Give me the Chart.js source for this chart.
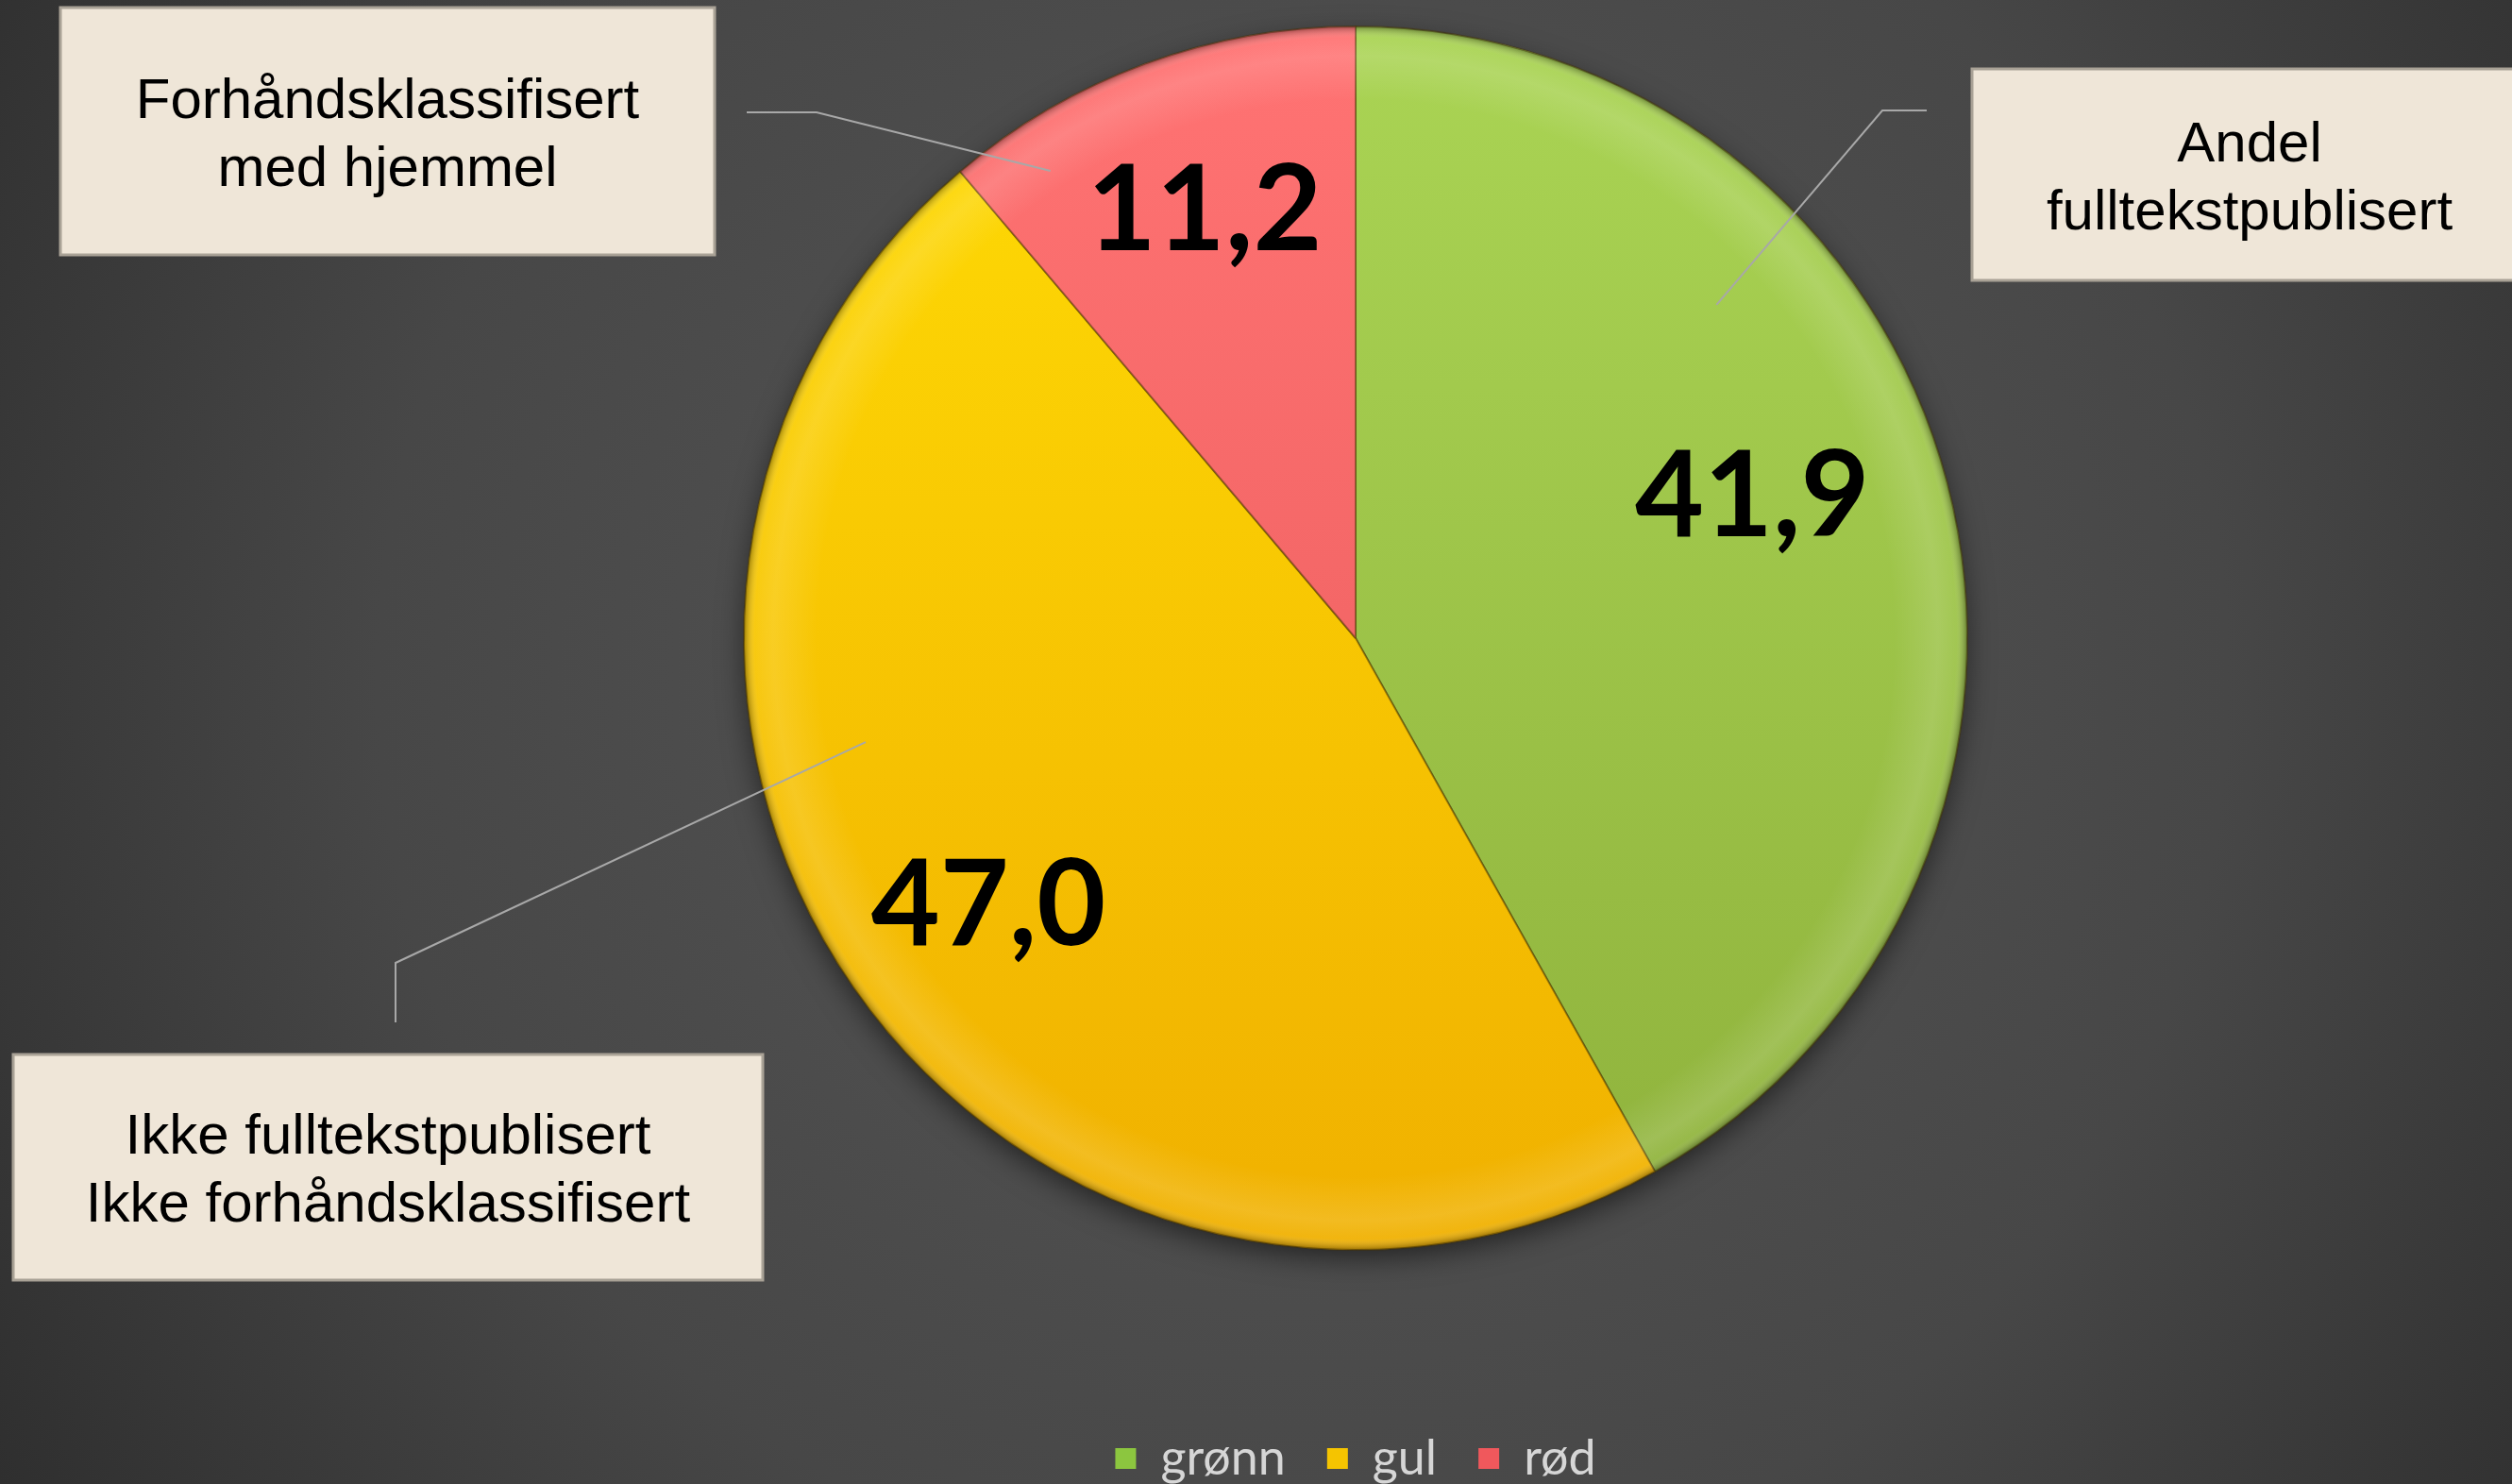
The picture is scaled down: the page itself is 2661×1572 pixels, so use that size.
<!DOCTYPE html>
<html lang="no">
<head>
<meta charset="UTF-8">
<title>Fulltekstpublisering</title>
<script src="https://cdn.jsdelivr.net/npm/chart.js@4.4.1/dist/chart.umd.min.js"></script>
<style>
    html, body { margin: 0; padding: 0; background: #3a3a3a; overflow: hidden; }
    #wrap { width: 2661px; height: 1572px; }
</style>
</head>
<body>
<div id="wrap"><canvas id="pie"></canvas></div>
<script>
// data
const categories = ['grønn', 'gul', 'rød'];
const shares = [41.9, 47.0, 11.2];
const valueLabels = ['41,9', '47,0', '11,2'];
const callouts = [
    ['Andel', 'fulltekstpublisert'],
    ['Ikke fulltekstpublisert', 'Ikke forhåndsklassifisert'],
    ['Forhåndsklassifisert', 'med hjemmel']
];

// colours (top -> bottom of the pie)
const topColors = ['#aad454', '#ffdc05', '#ff7373'];
const bottomColors = ['#8fb23c', '#f0b000', '#e85a5a'];
const legendColors = ['#8cc63f', '#f5c400', '#f0585c'];

// where each value label sits: angle shift from slice middle (deg), distance as part of radius
const labelShift = [-5.3, -1, 0.8];
const labelDist = [0.69, 0.74, 0.745];

// callout boxes: x, y, w, h, leader (box side -> elbow -> point on pie as fraction of radius)
const boxes = [
    { x: 2089, y: 73, w: 600, h: 224, text: 0, leader: [[2041, 117], [1994, 117]], tip: [0.590, -0.545] },
    { x: 14, y: 1117, w: 794, h: 239, text: 1, leader: [[419, 1083], [419, 1020]], tip: [-0.801, 0.170] },
    { x: 64, y: 8, w: 693, h: 262, text: 2, leader: [[791, 119], [865, 119]], tip: [-0.499, -0.764] }
];

const backdrop = {
    id: 'backdrop',
    beforeDraw(chart) {
        const ctx = chart.ctx;
        const g = ctx.createRadialGradient(1380, 720, 100, 1380, 720, 1700);
        g.addColorStop(0, '#555555');
        g.addColorStop(0.55, '#474747');
        g.addColorStop(1, '#2c2c2c');
        ctx.save();
        ctx.fillStyle = g;
        ctx.fillRect(0, 0, chart.width, chart.height);
        ctx.restore();
    },
    beforeDatasetsDraw(chart) {
        const arc = chart.getDatasetMeta(0).data[0];
        if (!arc) return;
        const ctx = chart.ctx;
        ctx.save();
        ctx.shadowColor = 'rgba(0,0,0,0.55)';
        ctx.shadowBlur = 30;
        ctx.shadowOffsetY = 10;
        ctx.fillStyle = '#333';
        ctx.beginPath();
        ctx.arc(arc.x, arc.y, arc.outerRadius - 2, 0, Math.PI * 2);
        ctx.fill();
        ctx.restore();
    },
    afterDatasetsDraw(chart) {
        const meta = chart.getDatasetMeta(0);
        const arc = meta.data[0];
        if (!arc) return;
        const ctx = chart.ctx;
        const r = arc.outerRadius;
        // bevel: light ring just inside the rim, dark edge at the rim
        ctx.save();
        ctx.beginPath();
        ctx.arc(arc.x, arc.y, r, 0, Math.PI * 2);
        ctx.clip();
        const g = ctx.createRadialGradient(arc.x, arc.y, r * 0.88, arc.x, arc.y, r);
        g.addColorStop(0, 'rgba(255,255,255,0)');
        g.addColorStop(0.6, 'rgba(255,255,255,0.13)');
        g.addColorStop(0.85, 'rgba(255,255,255,0.06)');
        g.addColorStop(1, 'rgba(0,0,0,0.35)');
        ctx.fillStyle = g;
        ctx.fillRect(arc.x - r, arc.y - r, 2 * r, 2 * r);
        ctx.restore();

        // value labels near slice middles
        ctx.save();
        ctx.font = 'bold 126px Lato';
        ctx.fillStyle = '#000';
        ctx.textAlign = 'center';
        ctx.textBaseline = 'middle';
        meta.data.forEach((a, i) => {
            const mid = (a.startAngle + a.endAngle) / 2 + labelShift[i] * Math.PI / 180;
            const d = r * labelDist[i];
            ctx.fillText(valueLabels[i], a.x + Math.cos(mid) * d, a.y + Math.sin(mid) * d + 4);
        });
        ctx.restore();
    },
    afterDraw(chart) {
        const arc = chart.getDatasetMeta(0).data[0];
        if (!arc) return;
        const ctx = chart.ctx;
        const r = arc.outerRadius;
        ctx.save();
        boxes.forEach(b => {
            // leader line
            ctx.strokeStyle = '#a8a8a8';
            ctx.lineWidth = 2;
            ctx.beginPath();
            ctx.moveTo(b.leader[0][0], b.leader[0][1]);
            ctx.lineTo(b.leader[1][0], b.leader[1][1]);
            ctx.lineTo(arc.x + b.tip[0] * r, arc.y + b.tip[1] * r);
            ctx.stroke();
            // box
            ctx.fillStyle = '#efe6d8';
            ctx.fillRect(b.x, b.y, b.w, b.h);
            ctx.strokeStyle = '#a9a296';
            ctx.lineWidth = 3;
            ctx.strokeRect(b.x, b.y, b.w, b.h);
            // text
            const lines = callouts[b.text];
            const cx = b.text === 0 ? 2383 : b.x + b.w / 2;
            const cy = b.y + b.h / 2 + 5;
            const lh = 72;
            ctx.fillStyle = '#000';
            ctx.font = '60px "Liberation Sans"';
            ctx.textAlign = 'center';
            ctx.textBaseline = 'middle';
            lines.forEach((t, k) => {
                ctx.fillText(t, cx, cy + (k - (lines.length - 1) / 2) * lh);
            });
        });
        ctx.restore();
    }
};

function sliceFill(ctx) {
    const chart = ctx.chart;
    const area = chart.chartArea;
    const i = ctx.dataIndex;
    if (!area) return topColors[i];
    const g = chart.ctx.createLinearGradient(0, area.top, 0, area.bottom);
    g.addColorStop(0, topColors[i]);
    g.addColorStop(1, bottomColors[i]);
    return g;
}

new Chart(document.getElementById('pie'), {
    type: 'pie',
    data: {
        labels: categories,
        datasets: [{
            data: shares,
            backgroundColor: sliceFill,
            borderColor: 'rgba(70,50,0,0.45)',
            borderWidth: 2
        }]
    },
    options: {
        responsive: true,
        maintainAspectRatio: false,
        animation: false,
        layout: { padding: { top: 27, left: 700, right: 489, bottom: -9 } },
        plugins: {
            tooltip: { enabled: false },
            legend: {
                position: 'bottom',
                // empty title only pushes the legend row down, away from the pie
                title: { display: true, text: ' ', font: { size: 10 }, padding: { top: 138, bottom: 0 } },
                labels: {
                    color: '#d6d6d6',
                    font: { family: 'Lato', size: 52 },
                    boxWidth: 22,
                    boxHeight: 22,
                    padding: 44,
                    generateLabels(chart) {
                        return categories.map((c, i) => ({
                            text: c,
                            fillStyle: legendColors[i],
                            strokeStyle: legendColors[i],
                            lineWidth: 0,
                            fontColor: '#d6d6d6',
                            index: i
                        }));
                    }
                }
            }
        }
    },
    plugins: [backdrop]
});
</script>
</body>
</html>
